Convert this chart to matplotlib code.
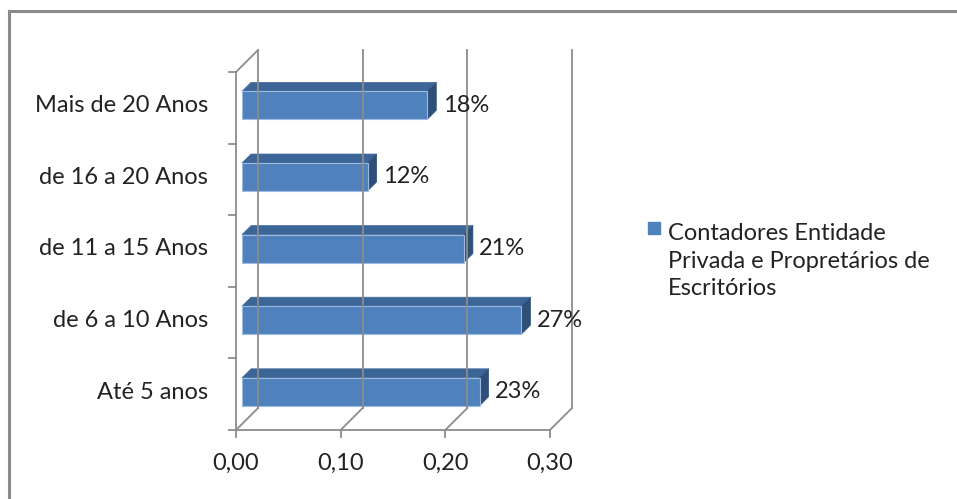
import matplotlib.pyplot as plt
from matplotlib.patches import Polygon
from matplotlib.lines import Line2D

categories = ['Até 5 anos', 'de 6 a 10 Anos', 'de 11 a 15 Anos', 'de 16 a 20 Anos', 'Mais de 20 Anos']
values = [0.227, 0.267, 0.212, 0.12, 0.177]
xticks = [0.0, 0.1, 0.2, 0.3]
series_name = 'Contadores Entidade\nPrivada e Propretários de\nEscritórios'

W, H = 957, 499
plt.rcParams['font.family'] = ['Lato', 'DejaVu Sans']
fig = plt.figure(figsize=(W / 100, H / 100), dpi=100)
fs = 17
txt = '#222222'

# axes box in pixels: front 0 at 236, back 0.30 at 572, floor 430, back top 50
px_left, px_right, px_bot, px_top = 236, 572, 430, 50
ax = fig.add_axes([px_left / W, 1 - px_bot / H, (px_right - px_left) / W, (px_bot - px_top) / H])
dx = 0.3 * 22 / (549 - 236)          # depth in x units
dy = 22 / ((430 - 72) / 5)            # depth in category units
ax.set_xlim(0, 0.3 + dx)
ax.set_ylim(-0.5, 4.5 + dy)
ax.axis('off')

grid = '#8c8c8c'
lw = 1.3
# back wall gridlines and floor diagonals
for t in xticks:
    ax.plot([t + dx, t + dx], [-0.5 + dy, 4.5 + dy], color=grid, lw=lw, clip_on=False)
    ax.plot([t, t + dx], [-0.5, -0.5 + dy], color=grid, lw=lw, clip_on=False)
ax.plot([0, dx], [4.5, 4.5 + dy], color=grid, lw=lw, clip_on=False)
# front axes
ax.plot([0, 0], [-0.5, 4.5], color=grid, lw=lw, clip_on=False)
ax.plot([0, 0.3], [-0.5, -0.5], color=grid, lw=lw, clip_on=False)
tick_x = 7 * 0.3 / (549 - 236)
tick_y = 7 / ((430 - 72) / 5)
for k in range(6):
    ax.plot([-tick_x, 0], [k - 0.5, k - 0.5], color=grid, lw=lw, clip_on=False)
for t in xticks:
    ax.plot([t, t], [-0.5, -0.5 - tick_y], color=grid, lw=lw, clip_on=False)
    ax.text(t, -0.5 - 3.3 * tick_y, f'{t:.2f}'.replace('.', ','), ha='center', va='top',
            fontsize=fs, color=txt)

# 3D bars
f0, f1 = 6 / 22, 15 / 22
h = 0.39
front, top, side = '#4f81bd', '#3d6698', '#2e4f77'
for i, (cat, v) in enumerate(zip(categories, values)):
    x0 = f0 * dx
    yc = i + f0 * dy - 0.05
    y0, y1 = yc - h / 2, yc + h / 2
    ddx, ddy = (f1 - f0) * dx, (f1 - f0) * dy
    ax.add_patch(Polygon([(x0, y1), (x0 + v, y1), (x0 + v + ddx, y1 + ddy), (x0 + ddx, y1 + ddy)],
                         closed=True, facecolor=top, edgecolor=top, lw=0.5, clip_on=False))
    ax.add_patch(Polygon([(x0 + v, y0), (x0 + v + ddx, y0 + ddy), (x0 + v + ddx, y1 + ddy), (x0 + v, y1)],
                         closed=True, facecolor=side, edgecolor=side, lw=0.5, clip_on=False))
    ax.add_patch(Polygon([(x0, y0), (x0 + v, y0), (x0 + v, y1), (x0, y1)],
                         closed=True, facecolor=front, edgecolor='#9dbbe0', lw=0.8, clip_on=False))
    ax.text(x0 + v + ddx + 0.006, yc, f'{int(v * 100 + 0.5)}%', ha='left', va='center',
            fontsize=fs, color=txt)
    fig.text((px_left - 28) / W, 1 - (430 - (i + 0.5) * (430 - 72) / 5 - 2) / H, cat,
             ha='right', va='center', fontsize=fs, color=txt)

# legend
fig.patches.append(Polygon([(648 / W, 1 - 222 / H), (660 / W, 1 - 222 / H), (660 / W, 1 - 234 / H),
                            (648 / W, 1 - 234 / H)], closed=True, transform=fig.transFigure,
                           facecolor=front, edgecolor=front))
fig.text(668 / W, 1 - 261 / H, series_name, ha='left', va='center', fontsize=fs,
         color=txt, linespacing=1.36)

# outer border
fig.lines.append(Line2D([9 / W, 1], [1 - 11 / H, 1 - 11 / H], transform=fig.transFigure,
                        color='#8a8a8a', lw=2.2))
fig.lines.append(Line2D([9 / W, 9 / W], [0, 1 - 11 / H], transform=fig.transFigure,
                        color='#8a8a8a', lw=2.2))

fig.savefig('out.png', dpi=100)
